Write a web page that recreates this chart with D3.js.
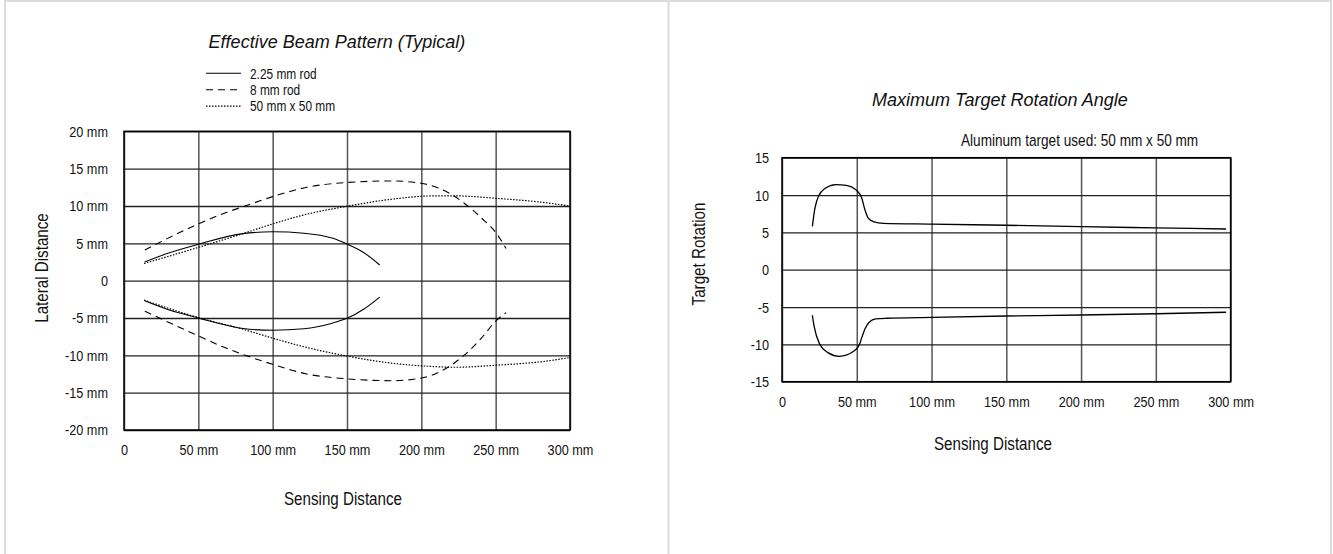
<!DOCTYPE html>
<html>
<head>
<meta charset="utf-8">
<script src="https://cdn.jsdelivr.net/npm/d3@7"></script>
<style>
body { margin: 0; background: #fff; }
text { font-family: "Liberation Sans", Arial, sans-serif; fill: #111; }
.title { font-style: italic; font-size: 18px; }
.tick text { font-size: 15.5px; }
</style>
</head>
<body>
<div class="canvas"></div>
<script>
// left chart - effective beam pattern
const beamXTicks = [0, 50, 100, 150, 200, 250, 300]
const beamXLabels = ['0', '50 mm', '100 mm', '150 mm', '200 mm', '250 mm', '300 mm']
const beamYTicks = [-20, -15, -10, -5, 0, 5, 10, 15, 20]
const beamYLabels = ['-20 mm', '-15 mm', '-10 mm', '-5 mm', '0', '5 mm', '10 mm', '15 mm', '20 mm']
const legendNames = ['2.25 mm rod', '8 mm rod', '50 mm x 50 mm']

const rodSmallDist = [13.9, 30, 50, 80, 100, 121, 140, 150, 161.4, 172]
const rodSmallUpper = [2.5, 3.7, 4.87, 6.3, 6.55, 6.35, 5.7, 4.9, 3.74, 2.1]
const rodSmallLower = [-2.7, -3.9, -5.0, -6.4, -6.65, -6.45, -5.7, -5.05, -3.8, -2.2]

const rodLargeDist = [14, 50, 67, 83, 100, 123, 150, 180, 201, 217, 228.7, 240.4, 250.6, 257]
const rodLargeUpper = [4.1, 7.6, 9.0, 10.1, 11.25, 12.5, 13.15, 13.35, 13.0, 11.9, 10.4, 8.4, 6.3, 4.3]
const rodLargeLower = [-4.1, -7.4, -8.9, -10.1, -11.2, -12.5, -13.15, -13.4, -13.0, -11.7, -10.0, -7.7, -5.3, -4.3]

const plateDist = [13.5, 50, 80, 100, 121, 150, 180, 208, 223, 252, 281, 300]
const plateUpper = [2.3, 4.45, 6.3, 7.6, 8.8, 9.96, 10.9, 11.35, 11.35, 11.0, 10.5, 10.0]
const plateLower = [-2.6, -4.95, -6.5, -7.7, -8.85, -10.1, -11.05, -11.5, -11.6, -11.3, -10.85, -10.3]

// right chart - max target rotation
const rotXTicks = [0, 50, 100, 150, 200, 250, 300]
const rotXLabels = ['0', '50 mm', '100 mm', '150 mm', '200 mm', '250 mm', '300 mm']
const rotYTicks = [-15, -10, -5, 0, 5, 10, 15]
const rotYLabels = ['-15', '-10', '-5', '0', '5', '10', '15']

const rotUpperDist = [20.3, 22, 24.3, 28.8, 36, 43, 50, 53.3, 55.5, 57.7, 61, 68, 100, 150, 200, 250, 297]
const rotUpper = [5.8, 8.2, 9.8, 10.9, 11.4, 11.3, 10.6, 9.6, 8.0, 6.9, 6.45, 6.2, 6.1, 5.95, 5.76, 5.6, 5.45]
const rotLowerDist = [20.3, 21.5, 25, 30.7, 38.5, 47.4, 51.6, 53.5, 55.7, 58.5, 62.7, 70, 100, 150, 200, 250, 297]
const rotLower = [-6.1, -7.6, -9.9, -11.1, -11.6, -11.0, -10.1, -9.0, -7.85, -7.0, -6.6, -6.5, -6.38, -6.2, -6.07, -5.9, -5.7]

const narrow = 0.82   // the source labels use a condensed face

const svg = d3.select('.canvas')
    .append('svg')
    .attr('width', 1333)
    .attr('height', 554)

// panel frames
svg.append('path')
    .attr('d', 'M5,554 V1 H1331 V554 M668.5,1 V554')
    .attr('fill', 'none')
    .attr('stroke', '#dcdcdc')
    .attr('stroke-width', 2)

const zip = (xs, ys) => xs.map((d, i) => [d, ys[i]])

// condensed text helper
const label = (x, y, txt, size, anchor, rot) => svg.append('text')
    .attr('transform', `translate(${x}, ${y})${rot ? ' rotate(-90)' : ''} scale(${narrow}, 1)`)
    .attr('text-anchor', anchor || 'start')
    .attr('font-size', size)
    .text(txt)

function drawFrame(g, x, y, xTicks, xLabels, yTicks, yLabels, w, h, yPad) {
    const xAxis = d3.axisBottom(x)
        .tickValues(xTicks)
        .tickSize(-h)
        .tickPadding(14)
        .tickFormat((d, i) => xLabels[i])
    const yAxis = d3.axisLeft(y)
        .tickValues(yTicks)
        .tickSize(-w)
        .tickPadding(yPad)
        .tickFormat((d, i) => yLabels[i])

    const xg = g.append('g')
        .attr('transform', `translate(0, ${h})`)
        .call(xAxis)
    const yg = g.append('g').call(yAxis)

    xg.attr('font-family', null).attr('font-size', null)
    yg.attr('font-family', null).attr('font-size', null)
    xg.select('.domain').remove()
    yg.select('.domain').remove()
    xg.selectAll('line').attr('stroke', '#555').attr('stroke-width', 1.5)
    yg.selectAll('line').attr('stroke', '#222').attr('stroke-width', 1.3)
    xg.selectAll('text')
        .attr('fill', '#111')
        .attr('transform', `scale(${narrow}, 1)`)
    yg.selectAll('text')
        .attr('fill', '#111')
        .attr('x', -yPad / narrow)
        .attr('transform', `scale(${narrow}, 1)`)

    g.append('rect')
        .attr('width', w)
        .attr('height', h)
        .attr('fill', 'none')
        .attr('stroke', '#000')
        .attr('stroke-width', 1.5)
}

// ---- left chart ----
const m1 = {top: 131.3, left: 124}
const w1 = 446, h1 = 298.7
const g1 = svg.append('g').attr('transform', `translate(${m1.left}, ${m1.top})`)
const x1 = d3.scaleLinear().domain([0, 300]).range([0, w1])
const y1 = d3.scaleLinear().domain([-20, 20]).range([h1, 0])

drawFrame(g1, x1, y1, beamXTicks, beamXLabels, beamYTicks, beamYLabels, w1, h1, 16)

const line1 = d3.line()
    .x(d => x1(d[0]))
    .y(d => y1(d[1]))
    .curve(d3.curveMonotoneX)

const dashes = [null, '7,5', '1.5,1.5']
const beamSeries = [
    [zip(rodSmallDist, rodSmallUpper), zip(rodSmallDist, rodSmallLower)],
    [zip(rodLargeDist, rodLargeUpper), zip(rodLargeDist, rodLargeLower)],
    [zip(plateDist, plateUpper), zip(plateDist, plateLower)]
]
beamSeries.forEach((pair, k) => {
    pair.forEach(pts => {
        g1.append('path')
            .attr('d', line1(pts))
            .attr('fill', 'none')
            .attr('stroke', '#000')
            .attr('stroke-width', k == 2 ? 1.2 : 1.1)
            .attr('stroke-dasharray', dashes[k])
    })
})

svg.append('text')
    .attr('class', 'title')
    .attr('x', 337)
    .attr('y', 48)
    .attr('text-anchor', 'middle')
    .text('Effective Beam Pattern (Typical)')

const legend = svg.append('g').attr('transform', 'translate(206, 73.3)')
legendNames.forEach((name, i) => {
    legend.append('line')
        .attr('x1', 0).attr('x2', 35)
        .attr('y1', i * 16.4).attr('y2', i * 16.4)
        .attr('stroke', '#000')
        .attr('stroke-width', 1.1)
        .attr('stroke-dasharray', dashes[i])
    label(250, 73.3 + i * 16.4 + 5.3, name, 14.5)
})

label(48, 268, 'Lateral Distance', 18.5, 'middle', true)
label(343, 505, 'Sensing Distance', 18.5, 'middle')

// ---- right chart ----
const m2 = {top: 157.7, left: 782}
const w2 = 448.6, h2 = 224
const g2 = svg.append('g').attr('transform', `translate(${m2.left}, ${m2.top})`)
const x2 = d3.scaleLinear().domain([0, 300]).range([0, w2])
const y2 = d3.scaleLinear().domain([-15, 15]).range([h2, 0])

drawFrame(g2, x2, y2, rotXTicks, rotXLabels, rotYTicks, rotYLabels, w2, h2, 13)

const line2 = d3.line()
    .x(d => x2(d[0]))
    .y(d => y2(d[1]))
    .curve(d3.curveMonotoneX)

;[zip(rotUpperDist, rotUpper), zip(rotLowerDist, rotLower)].forEach(pts => {
    g2.append('path')
        .attr('d', line2(pts))
        .attr('fill', 'none')
        .attr('stroke', '#000')
        .attr('stroke-width', 1.3)
})

svg.append('text')
    .attr('class', 'title')
    .attr('x', 1000)
    .attr('y', 106)
    .attr('text-anchor', 'middle')
    .text('Maximum Target Rotation Angle')

label(961, 145.5, 'Aluminum target used: 50 mm x 50 mm', 16.6)
label(705, 254, 'Target Rotation', 18.5, 'middle', true)
label(993, 450, 'Sensing Distance', 18.5, 'middle')
</script>
</body>
</html>
